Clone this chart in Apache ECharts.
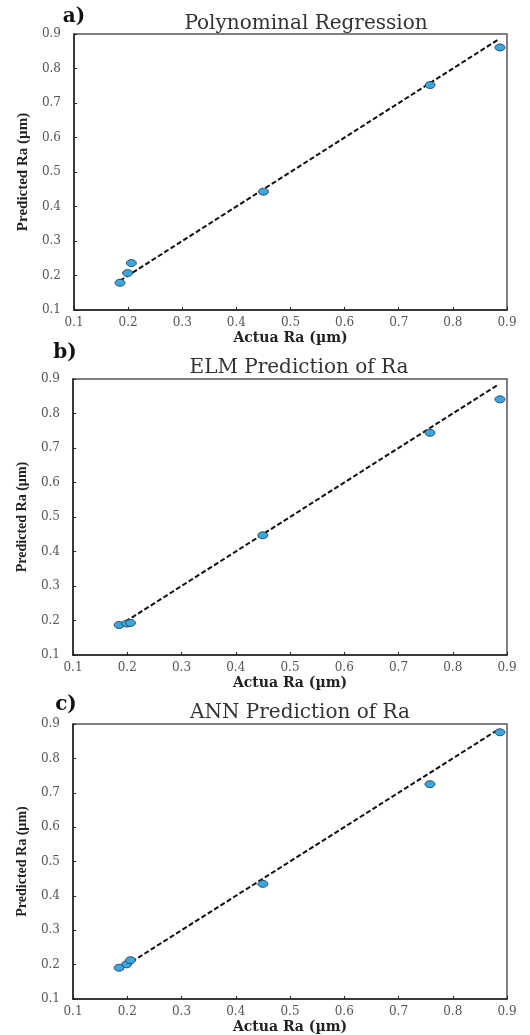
<!DOCTYPE html>
<html>
<head>
<meta charset="utf-8">
<script src="https://cdn.jsdelivr.net/npm/echarts@6/dist/echarts.min.js"></script>
<style>
html,body{margin:0;padding:0;background:#fff;}
#chart{width:530px;height:1035px;}
</style>
</head>
<body>
<div id="chart"></div>
<script>
// ---- data ----
const panelLabels = ['a)', 'b)', 'c)'];
const panelTitles = ['Polynominal Regression', 'ELM Prediction of Ra', 'ANN Prediction of Ra'];
const actualRa = [0.185, 0.199, 0.206, 0.450, 0.758, 0.887];
const predPoly = [0.179, 0.207, 0.236, 0.443, 0.752, 0.861];
const predELM  = [0.187, 0.191, 0.193, 0.447, 0.744, 0.841];
const predANN  = [0.191, 0.201, 0.213, 0.435, 0.725, 0.876];
const refLine = [0.185, 0.885];
const axisMin = 0.1, axisMax = 0.9, axisStep = 0.1;
const xName = 'Actua Ra (µm)';
const yName = 'Predicted Ra (µm)';

// ---- layout ----
const grids = [
  {left: 74, top: 34, width: 433, height: 276},
  {left: 73, top: 379, width: 434, height: 276},
  {left: 73, top: 724, width: 434, height: 275}
];
const labelPos = [[74, 17], [65, 353], [66, 705]];
const titlePos = [[306, 24], [299, 368], [300, 713]];
const yNameGap = [40, 44, 44];
const yNameSize = [15, 14, 14];
const preds = [predPoly, predELM, predANN];

const serif = '"DejaVu Serif", serif';
const times = '"Liberation Serif", serif';

const option = {
  backgroundColor: '#fff',
  animation: false,
  grid: grids.map(g => Object.assign({show: true, borderColor: '#555', borderWidth: 1.5, backgroundColor: 'transparent'}, g)),
  xAxis: grids.map((g, i) => ({
    type: 'value', gridIndex: i, min: axisMin, max: axisMax, interval: axisStep,
    name: xName, nameLocation: 'middle', nameGap: 21,
    nameTextStyle: {fontFamily: serif, fontWeight: 'bold', fontSize: 14, color: '#222'},
    axisLine: {show: true, lineStyle: {color: '#222', width: 1.5}},
    axisTick: {show: true, inside: true, length: 3, lineStyle: {color: '#222'}},
    axisLabel: {fontFamily: serif, fontSize: 12, color: '#555', margin: 7, formatter: v => v.toFixed(1)},
    splitLine: {show: false}
  })),
  yAxis: grids.map((g, i) => ({
    type: 'value', gridIndex: i, min: axisMin, max: axisMax, interval: axisStep,
    name: yName, nameLocation: 'middle', nameGap: yNameGap[i], nameRotate: 90,
    nameTextStyle: {fontFamily: times, fontWeight: 'bold', fontSize: yNameSize[i], color: '#222'},
    axisLine: {show: true, lineStyle: {color: '#222', width: 1.5}},
    axisTick: {show: true, inside: true, length: 3, lineStyle: {color: '#222'}},
    axisLabel: {fontFamily: serif, fontSize: 12, color: '#555', margin: 13, formatter: v => v.toFixed(1)},
    splitLine: {show: false}
  })),
  series: [],
  graphic: []
};

preds.forEach((p, i) => {
  option.series.push({
    type: 'line', xAxisIndex: i, yAxisIndex: i,
    data: refLine.map(v => [v, v]),
    showSymbol: false, symbol: 'none',
    lineStyle: {color: '#111', width: 2, type: [5, 2.5]},
    z: 2
  });
  option.series.push({
    type: 'scatter', xAxisIndex: i, yAxisIndex: i,
    data: actualRa.map((a, k) => [a, p[k]]),
    symbol: 'circle', symbolSize: [10, 7],
    itemStyle: {color: '#3aa6dc', borderColor: '#1d3550', borderWidth: 0.8, opacity: 1},
    z: 3
  });
  option.graphic.push({
    type: 'text', x: labelPos[i][0], y: labelPos[i][1],
    style: {text: panelLabels[i], fontFamily: serif, fontSize: 20, fontWeight: 'bold', fill: '#111', align: 'center', verticalAlign: 'middle'}
  });
  option.graphic.push({
    type: 'text', x: titlePos[i][0], y: titlePos[i][1],
    style: {text: panelTitles[i], fontFamily: serif, fontSize: 20, fill: '#333', align: 'center', verticalAlign: 'middle'}
  });
});

const chart = echarts.init(document.getElementById('chart'), null, {renderer: 'canvas'});
chart.setOption(option);
</script>
</body>
</html>
